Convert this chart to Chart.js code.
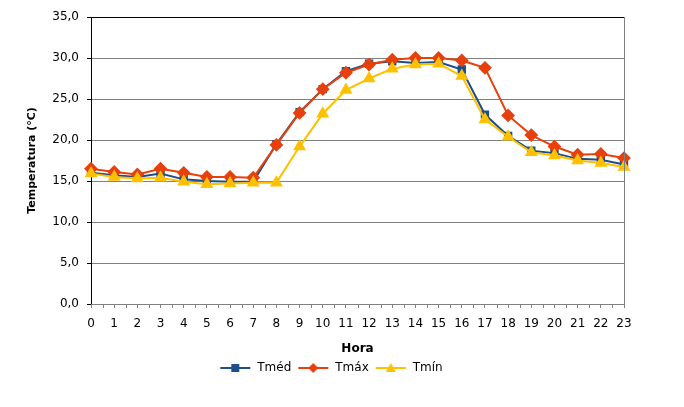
<!DOCTYPE html>
<html>
<head>
<meta charset="utf-8">
<script src="https://cdn.jsdelivr.net/npm/chart.js@4"></script>
<style>
  html, body { margin: 0; padding: 0; background: #fff; }
  #wrap { width: 684px; height: 407px; }
</style>
</head>
<body>
<div id="wrap"><canvas id="tempChart" width="684" height="407"></canvas></div>
<script>
// Temperature by hour
const horas = ['0','1','2','3','4','5','6','7','8','9','10','11','12','13','14','15','16','17','18','19','20','21','22','23'];
const tMed = [16.0, 15.7, 15.5, 15.9, 15.2, 15.0, 14.9, 14.9, 19.5, 23.4, 26.2, 28.4, 29.3, 29.6, 29.4, 29.5, 28.6, 23.1, 20.5, 18.7, 18.4, 17.7, 17.6, 17.0];
const tMax = [16.5, 16.1, 15.8, 16.5, 16.0, 15.5, 15.5, 15.4, 19.4, 23.3, 26.2, 28.2, 29.2, 29.8, 30.0, 30.0, 29.7, 28.8, 23.0, 20.6, 19.2, 18.2, 18.3, 17.8];
const tMin = [15.9, 15.5, 15.3, 15.4, 14.9, 14.6, 14.7, 14.8, 14.8, 19.2, 23.2, 26.1, 27.5, 28.7, 29.2, 29.3, 27.8, 22.5, 20.4, 18.5, 18.1, 17.5, 17.2, 16.7];

const FONT = 'DejaVu Sans, Verdana, sans-serif';
const cMed = '#1F4E87';
const cMax = '#E8400C';
const cMin = '#FFC000';

// legend icon: short line with the marker in the middle
function legendIcon(color, shape) {
    const c = document.createElement('canvas');
    c.width = 32; c.height = 12;
    const g = c.getContext('2d');
    g.strokeStyle = color;
    g.lineWidth = 2;
    g.beginPath(); g.moveTo(1, 6); g.lineTo(31, 6); g.stroke();
    g.fillStyle = color;
    g.beginPath();
    if (shape === 'rect') {
        g.rect(12, 2, 8, 8);
    } else if (shape === 'rectRot') {
        g.moveTo(16, 1); g.lineTo(21, 6); g.lineTo(16, 11); g.lineTo(11, 6); g.closePath();
    } else {
        g.moveTo(16, 1); g.lineTo(21, 10); g.lineTo(11, 10); g.closePath();
    }
    g.fill();
    return c;
}

// small ticks halfway between hours on the x axis
const halfTicks = {
    id: 'halfTicks',
    afterDraw(chart) {
        const x = chart.scales.x;
        const ctx = chart.ctx;
        ctx.save();
        ctx.strokeStyle = '#808080';
        ctx.lineWidth = 1;
        ctx.beginPath();
        for (let i = 0; i < horas.length - 1; i++) {
            const px = Math.round((x.getPixelForValue(i) + x.getPixelForValue(i + 1)) / 2) + 0.5;
            ctx.moveTo(px, x.top);
            ctx.lineTo(px, x.top + 4);
        }
        ctx.stroke();
        ctx.restore();
    }
};

// top border black, right border gray, legend nudged right
const frame = {
    id: 'frame',
    afterLayout(chart) {
        chart.legend.left += 6;
        chart.legend.right += 6;
    },
    afterDraw(chart) {
        const a = chart.chartArea;
        const c = chart.ctx;
        c.save();
        c.lineWidth = 1;
        c.strokeStyle = '#000';
        c.beginPath(); c.moveTo(a.left, Math.round(a.top) + 0.5); c.lineTo(a.right, Math.round(a.top) + 0.5); c.stroke();
        c.strokeStyle = '#808080';
        c.beginPath(); c.moveTo(Math.round(a.right) + 0.5, a.top); c.lineTo(Math.round(a.right) + 0.5, a.bottom); c.stroke();
        c.restore();
    }
};

const ctx = document.getElementById('tempChart').getContext('2d');
const tempChart = new Chart(ctx, {
    type: 'line',
    data: {
        labels: horas,
        datasets: [{
            label: 'Tméd',
            data: tMed,
            borderColor: cMed,
            backgroundColor: cMed,
            borderWidth: 2,
            pointStyle: 'rect',
            pointRadius: 4.5,
            pointHoverRadius: 4.5,
            order: 3,
            tension: 0
        }, {
            label: 'Tmáx',
            data: tMax,
            borderColor: cMax,
            backgroundColor: cMax,
            borderWidth: 2,
            pointStyle: 'rectRot',
            pointRadius: 5.5,
            pointHoverRadius: 5.5,
            order: 2,
            tension: 0
        }, {
            label: 'Tmín',
            data: tMin,
            borderColor: cMin,
            backgroundColor: cMin,
            borderWidth: 2,
            pointStyle: 'triangle',
            pointRadius: 5.5,
            pointHoverRadius: 5.5,
            order: 1,
            tension: 0
        }]
    },
    options: {
        responsive: false,
        animation: false,
        layout: { padding: { left: 26, right: 60, top: 17, bottom: 23 } },
        scales: {
            y: {
                min: 0,
                max: 35,
                afterFit(scale) { scale.width = 65; },
                ticks: {
                    stepSize: 5,
                    color: '#000',
                    padding: 8,
                    font: { family: FONT, size: 12 },
                    callback: v => v.toFixed(1).replace('.', ',')
                },
                grid: { color: '#808080', tickColor: '#000', tickLength: 4 },
                border: { color: '#000' },
                title: { display: true, text: 'Temperatura (°C)', color: '#000', padding: 0, font: { family: FONT, size: 11, weight: 'bold' } }
            },
            x: {
                offset: false,
                afterFit(scale) { scale.height = 52; },
                ticks: {
                    color: '#000',
                    padding: 9,
                    maxRotation: 0,
                    autoSkip: false,
                    font: { family: FONT, size: 12 }
                },
                grid: { drawOnChartArea: false, color: '#808080', tickLength: 4 },
                border: { color: '#808080' },
                title: { display: true, text: 'Hora', color: '#000', padding: 0, font: { family: FONT, size: 12, weight: 'bold' } }
            }
        },
        plugins: {
            legend: {
                display: true,
                position: 'bottom',
                labels: {
                    color: '#000',
                    font: { family: FONT, size: 12 },
                    usePointStyle: true,
                    pointStyleWidth: 32,
                    padding: 6,
                    generateLabels(chart) {
                        const shapes = ['rect', 'rectRot', 'triangle'];
                        return chart.data.datasets.map((ds, i) => ({
                            text: ds.label,
                            pointStyle: legendIcon(ds.borderColor, shapes[i]),
                            fillStyle: ds.borderColor,
                            strokeStyle: ds.borderColor,
                            lineWidth: 0,
                            hidden: false,
                            datasetIndex: i,
                            fontColor: '#000'
                        }));
                    }
                }
            },
            tooltip: { enabled: false }
        }
    },
    plugins: [halfTicks, frame]
});
</script>
</body>
</html>
